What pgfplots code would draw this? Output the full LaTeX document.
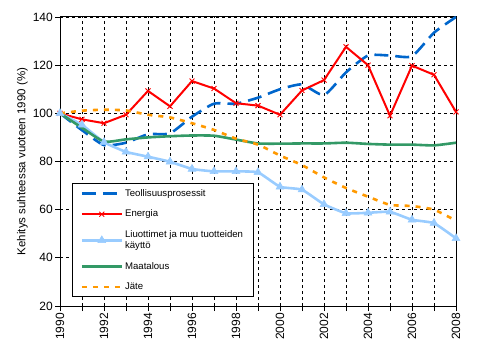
\documentclass[border=0pt]{standalone}
\usepackage{fontspec}
\setmainfont{Liberation Sans}
\usepackage{pgfplots}
\pgfplotsset{compat=1.18}
\definecolor{teol}{RGB}{0,102,204}
\definecolor{ener}{RGB}{255,0,0}
\definecolor{liuo}{RGB}{153,204,255}
\definecolor{maat}{RGB}{51,153,102}
\definecolor{jate}{RGB}{255,153,0}
\begin{document}
\begin{tikzpicture}[x=1pt,y=1pt]
\useasboundingbox (0,0) rectangle (495,359);
\begin{axis}[
  at={(60pt,53pt)}, anchor=south west,
  scale only axis, width=396pt, height=289pt,
  xmin=1990, xmax=2008, ymin=20, ymax=140,
  xtick={1990,...,2008},
  xticklabels={1990,,1992,,1994,,1996,,1998,,2000,,2002,,2004,,2006,,2008},
  ytick={20,40,...,140},
  grid=major,
  grid style={black, line width=0.8pt, dash pattern=on 3pt off 3pt},
  tick align=outside, xtick pos=left, ytick pos=left,
  major tick length=5pt,
  tick style={black, line width=0.8pt},
  axis line style={black, line width=1pt},
  xticklabel style={rotate=90, anchor=east, font=\fontsize{12}{13}\selectfont, inner sep=2pt},
  yticklabel style={font=\fontsize{12}{13}\selectfont, /pgf/number format/assume math mode=true, inner sep=2pt},
  ylabel={Kehitys suhteessa vuoteen 1990 (\%)},
  ylabel style={at={(axis description cs:-0.095,0.5)}, anchor=center, font=\fontsize{11.5}{12}\selectfont},
  legend image code/.code={\draw[mark repeat=2,mark phase=2,#1] plot coordinates {(0pt,0pt) (20pt,0pt) (40pt,0pt)};},
  legend style={at={(0.0303,0.4256)}, anchor=north west, draw=black, line width=1pt,
    font=\fontsize{9.6}{11.5}\selectfont, cells={anchor=west, align=left},
    row sep=8pt, inner xsep=8pt, inner ysep=4pt,
    /tikz/every odd column/.append style={column sep=0pt}},
  legend cell align=left,
]
\addplot[teol, line width=2.6pt, dash pattern=on 14pt off 7pt, smooth, tension=0.35] coordinates {
(1990,100) (1991,93) (1992,86.8) (1993,87.8) (1994,91.3) (1995,91.7) (1996,98.6) (1997,104) (1998,104) (1999,106.5)
(2000,110) (2001,112) (2002,107.6) (2003,117) (2004,124) (2005,124) (2006,123.7) (2007,133.5) (2008,140)};
\addlegendentry{Teollisuusprosessit}
\addplot[ener, line width=2pt, mark=x, mark size=3.5pt, mark options={line width=0.9pt}] coordinates {
(1990,100) (1991,97.5) (1992,95.9) (1993,99.4) (1994,109.3) (1995,102.9) (1996,113.4) (1997,110.3) (1998,104.2) (1999,103.2)
(2000,99.4) (2001,109.5) (2002,113.8) (2003,127.6) (2004,120) (2005,99) (2006,119.8) (2007,116) (2008,100.6)};
\addlegendentry{Energia}
\addplot[liuo, line width=2.6pt, smooth, tension=0.25, mark=triangle*, mark size=4.6pt, mark options={solid, fill=liuo, line width=0.5pt}] coordinates {
(1990,100) (1991,95.2) (1992,88) (1993,84) (1994,82) (1995,79.9) (1996,76.9) (1997,75.9) (1998,75.9) (1999,75.5)
(2000,69.5) (2001,68.3) (2002,62.2) (2003,58.5) (2004,58.7) (2005,59.1) (2006,55.8) (2007,54.4) (2008,48.1)};
\addlegendentry{Liuottimet ja muu tuotteiden\\käyttö}
\addplot[maat, line width=2.6pt, smooth, tension=0.35] coordinates {
(1990,100) (1991,94) (1992,88.3) (1993,89.2) (1994,90) (1995,90.5) (1996,90.8) (1997,90.7) (1998,89.1) (1999,87.5)
(2000,87.4) (2001,87.5) (2002,87.5) (2003,87.8) (2004,87.3) (2005,87) (2006,87) (2007,86.7) (2008,87.8)};
\addlegendentry{Maatalous}
\addplot[jate, line width=2.6pt, dash pattern=on 5pt off 6pt, smooth, tension=0.35] coordinates {
(1990,100) (1991,101.1) (1992,101.5) (1993,101.2) (1994,99.4) (1995,98.3) (1996,95.9) (1997,93.1) (1998,89.5) (1999,87)
(2000,82.5) (2001,78.5) (2002,73.4) (2003,69) (2004,65.4) (2005,62) (2006,61.5) (2007,60) (2008,55.4)};
\addlegendentry{Jäte}
\end{axis}
\end{tikzpicture}
\end{document}
